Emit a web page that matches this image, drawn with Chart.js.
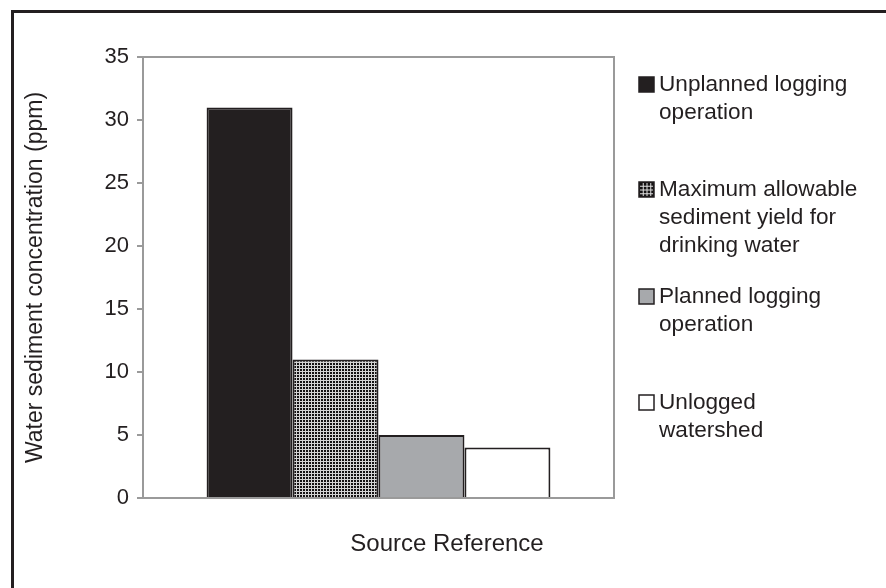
<!DOCTYPE html>
<html lang="en">
<head>
  <meta charset="UTF-8" />
  <script src="https://cdn.jsdelivr.net/npm/chart.js"></script>
  <title>Water sediment</title>
  <style>
    * {
      padding: 0;
      margin: 0;
    }

    html, body {
      background-color: #ffffff;
      width: 886px;
      height: 588px;
      overflow: hidden;
    }

    .frame {
      position: absolute;
      left: 11px;
      top: 10px;
      width: 900px;
      height: 600px;
      border: 3px solid #231f20;
    }

    .graph {
      position: absolute;
      left: 0;
      top: 0;
      width: 886px;
      height: 588px;
    }
  </style>
</head>
<body>
  <div class="frame"></div>
  <div class="graph">
    <canvas id="sedimentGraph" aria-label="Water sediment concentration chart" role="img"></canvas>
  </div>

<script>
  // Data
  const categories = [''];
  const seriesNames = [
    ['Unplanned logging', 'operation'],
    ['Maximum allowable', 'sediment yield for', 'drinking water'],
    ['Planned logging', 'operation'],
    ['Unlogged', 'watershed']
  ];
  const seriesValues = [31, 11, 5, 4];
  const yTicks = [0, 5, 10, 15, 20, 25, 30, 35];
  const yTitle = 'Water sediment concentration (ppm)';
  const xTitle = 'Source Reference';

  const ink = '#231f20';
  const fontFamily = '"Liberation Sans", Arial, sans-serif';

  // Checked fill for the second bar
  function makeGrid() {
    const c = document.createElement('canvas');
    c.width = 3;
    c.height = 3;
    const g = c.getContext('2d');
    g.fillStyle = '#141213';
    g.fillRect(0, 0, 3, 3);
    g.fillStyle = '#d4d4d4';
    g.fillRect(0, 2, 3, 1);
    g.fillRect(2, 0, 1, 3);
    return g.createPattern(c, 'repeat');
  }

  const fills = [ink, makeGrid(), '#a7a9ac', '#ffffff'];

  const datasets = seriesValues.map(function (v, i) {
    return {
      label: seriesNames[i].join(' '),
      data: [v],
      backgroundColor: fills[i],
      borderColor: ink,
      borderWidth: 2,
      borderSkipped: 'bottom',
      categoryPercentage: 0.73,
      barPercentage: 1
    };
  });

  // Plot frame, x title and legend
  const extras = {
    id: 'extras',
    beforeDatasetsDraw: function (chart) {
      const a = chart.chartArea;
      const ctx = chart.ctx;
      ctx.save();
      ctx.strokeStyle = '#9a9a9a';
      ctx.lineWidth = 2;
      ctx.strokeRect(a.left, a.top, a.right - a.left, a.bottom - a.top);
      ctx.restore();
    },
    afterDraw: function (chart) {
      const ctx = chart.ctx;
      ctx.save();
      ctx.fillStyle = ink;
      ctx.font = '24px ' + fontFamily;
      ctx.textAlign = 'center';
      ctx.textBaseline = 'middle';
      ctx.fillText(xTitle, 447, 544);

      const tops = [85, 190, 297, 403];
      ctx.font = '22.6px ' + fontFamily;
      ctx.textAlign = 'left';
      for (let i = 0; i < seriesNames.length; i++) {
        const y = tops[i];
        // swatch
        ctx.fillStyle = i === 1 ? '#141213' : fills[i];
        ctx.fillRect(639, y - 8, 15, 15);
        if (i === 1) {
          ctx.fillStyle = '#e0e0e0';
          for (let k = 1; k < 4; k++) {
            ctx.fillRect(639 + k * 3.75, y - 7, 1, 13);
            ctx.fillRect(640, y - 8 + k * 3.75, 13, 1);
          }
        }
        ctx.strokeStyle = ink;
        ctx.lineWidth = 1.5;
        ctx.strokeRect(639, y - 8, 15, 15);
        ctx.fillStyle = ink;
        for (let j = 0; j < seriesNames[i].length; j++) {
          ctx.fillText(seriesNames[i][j], 659, y + j * 28);
        }
      }
      ctx.restore();
    }
  };

  const sedimentGraph = document.getElementById('sedimentGraph');

  const sedimentGraphChart = new Chart(sedimentGraph, {
    type: 'bar',
    data: {
      labels: categories,
      datasets: datasets
    },
    options: {
      responsive: true,
      maintainAspectRatio: false,
      animation: false,
      layout: {
        padding: { left: 0, top: 57, right: 272, bottom: 0 }
      },
      scales: {
        x: {
          ticks: { display: false },
          grid: { display: false, drawTicks: false },
          border: { color: '#9a9a9a', width: 2 },
          afterFit: function (scale) {
            scale.height = 90;
          }
        },
        y: {
          min: 0,
          max: 35,
          afterBuildTicks: function (scale) {
            scale.ticks = yTicks.map(function (v) { return { value: v }; });
          },
          ticks: {
            color: ink,
            padding: 8,
            font: { family: fontFamily, size: 22 }
          },
          grid: {
            drawOnChartArea: false,
            drawTicks: true,
            tickLength: 6,
            color: '#9a9a9a',
            lineWidth: 2
          },
          border: { color: '#9a9a9a', width: 2 },
          title: {
            display: true,
            text: yTitle,
            color: ink,
            font: { family: fontFamily, size: 23 },
            padding: { top: 22, bottom: 0 }
          },
          afterFit: function (scale) {
            scale.width = 143;
          }
        }
      },
      plugins: {
        legend: { display: false },
        tooltip: { enabled: false }
      }
    },
    plugins: [extras]
  });
</script>
</body>
</html>
